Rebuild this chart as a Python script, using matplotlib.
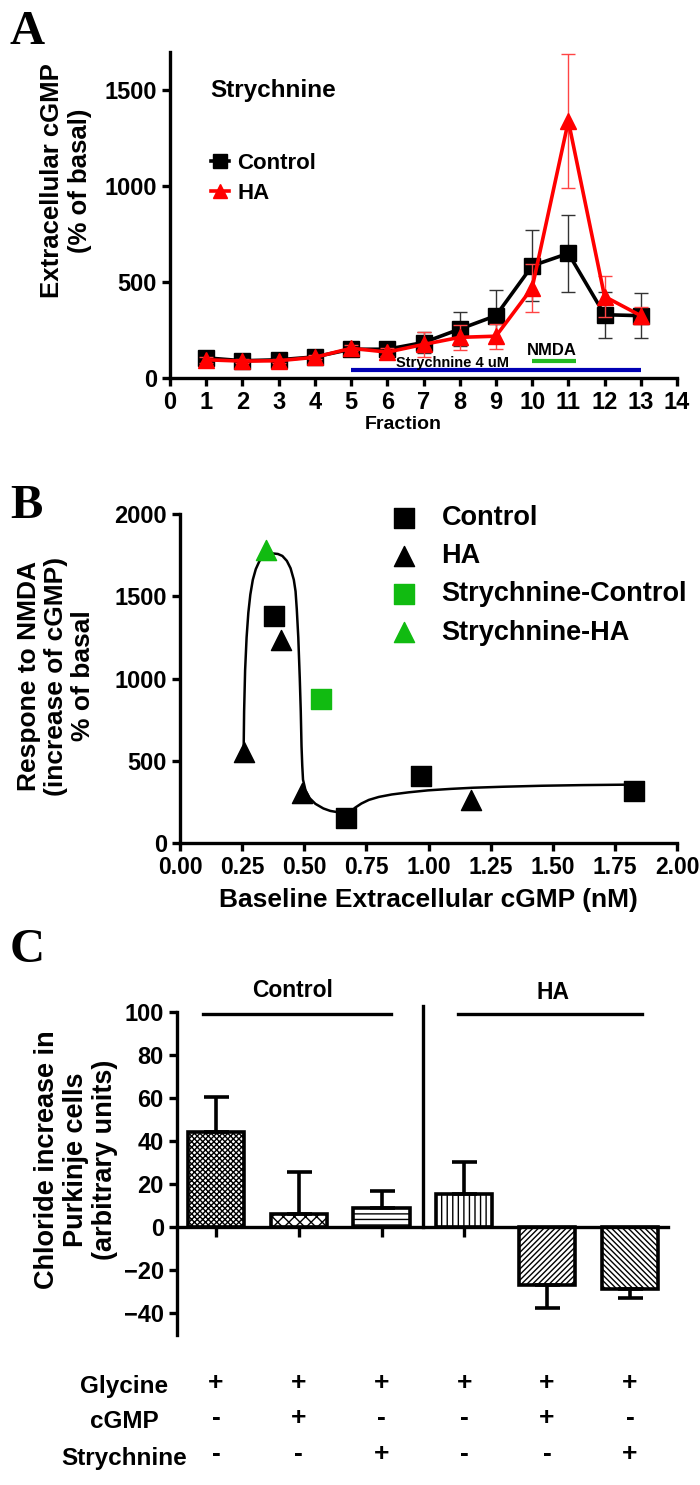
import numpy as np
import matplotlib.pyplot as plt
from matplotlib.lines import Line2D
from matplotlib.transforms import blended_transform_factory

plt.rcParams['font.family'] = ['Liberation Sans', 'DejaVu Sans']
plt.rcParams['font.weight'] = 'bold'
plt.rcParams['axes.labelweight'] = 'bold'
plt.rcParams['hatch.linewidth'] = 1.0

# ---- Panel A data ----
fraction = np.arange(1, 14)
ctrl_mean = [105, 90, 95, 110, 150, 150, 185, 255, 325, 585, 650, 330, 325]
ctrl_err = [25, 15, 15, 15, 20, 20, 55, 90, 135, 185, 200, 120, 118]
ha_mean = [95, 88, 90, 108, 155, 135, 175, 212, 218, 470, 1340, 425, 325]
ha_err = [15, 10, 10, 10, 15, 20, 65, 65, 65, 125, 350, 105, 45]

# ---- Panel B data ----
ctrl_x = [0.379, 0.668, 0.971, 1.828]
ctrl_y = [1378, 150, 405, 315]
ha_x = [0.256, 0.407, 0.489, 1.172]
ha_y = [555, 1235, 305, 260]
strych_ctrl_x = [0.568]
strych_ctrl_y = [875]
strych_ha_x = [0.348]
strych_ha_y = [1780]
fit_x = [0.256, 0.258, 0.262, 0.268, 0.275, 0.283, 0.293, 0.305, 0.32, 0.338, 0.357,
         0.375, 0.394, 0.412, 0.43, 0.445, 0.458, 0.465, 0.47, 0.476, 0.482, 0.486,
         0.489, 0.492, 0.495, 0.505, 0.522, 0.545, 0.577, 0.605, 0.632, 0.66, 0.687,
         0.705, 0.73, 0.76, 0.8, 0.852, 0.92, 0.998, 1.09, 1.18, 1.3, 1.456, 1.62, 1.82]
fit_y = [555, 800, 1050, 1250, 1400, 1510, 1600, 1665, 1715, 1742, 1756,
         1760, 1757, 1745, 1715, 1670, 1600, 1530, 1420, 1250, 1000, 800,
         590, 470, 385, 320, 272, 238, 210, 195, 188, 185, 190,
         215, 240, 262, 280, 295, 308, 320, 329, 336, 342, 348, 352, 355]

# ---- Panel C data ----
bar_mean = [44.5, 6, 9, 15.5, -27, -28.5]
bar_err = [16, 19.5, 8, 15, 10.5, 4.5]
bar_hatch = ['xxxxxx', 'xxx', '---', '|||', '//////', '\\\\\\\\\\\\']
glycine = ['+', '+', '+', '+', '+', '+']
cgmp = ['-', '+', '-', '-', '+', '-']
strychnine = ['-', '-', '+', '-', '-', '+']

W, H = 700, 1485
fig = plt.figure(figsize=(W / 100, H / 100), dpi=100)


def px_axes(left, right, top, bottom):
    return fig.add_axes([left / W, 1 - bottom / H, (right - left) / W, (bottom - top) / H])


def style(ax):
    for s in ['top', 'right']:
        ax.spines[s].set_visible(False)
    for s in ['left', 'bottom']:
        ax.spines[s].set_linewidth(2.4)
    ax.tick_params(width=2.4, length=6, labelsize=17, direction='out')
    for lab in ax.get_xticklabels() + ax.get_yticklabels():
        lab.set_fontweight('bold')


# ================= A =================
axA = px_axes(170, 677, 52, 378)
axA.errorbar(fraction, ctrl_mean, yerr=ctrl_err, color='black', lw=2.6, marker='s', ms=11,
             ecolor='#333333', elinewidth=1.0, capsize=5, capthick=1.0, zorder=3)
axA.errorbar(fraction, ha_mean, yerr=ha_err, color='#ff0000', lw=2.6, marker='^', ms=11,
             ecolor='#ff4444', elinewidth=1.0, capsize=5, capthick=1.0, zorder=4)
axA.set_xlim(0, 14)
axA.set_ylim(0, 1700)
axA.set_xticks(range(0, 15))
axA.set_yticks([0, 500, 1000, 1500])
style(axA)
axA.spines['bottom'].set_bounds(0, 14)
axA.set_xlabel('Fraction', fontsize=14, fontweight='bold')
axA.xaxis.set_label_coords(0.46, -0.118)
axA.plot([5, 13], [40, 40], color='#0000b4', lw=3, solid_capstyle='butt')
axA.plot([10, 11.2], [88, 88], color='#22bb22', lw=3, solid_capstyle='butt')
axA.text(7.8, 80, 'Strychnine 4 uM', fontsize=10.5, fontweight='bold', ha='center', va='center')
axA.text(10.55, 145, 'NMDA', fontsize=12, fontweight='bold', ha='center', va='center')
axA.text(1.1, 1500, 'Strychnine', fontsize=17.5, fontweight='bold', ha='left', va='center')
hA = [Line2D([], [], color='black', lw=2.6, marker='s', ms=10),
      Line2D([], [], color='#ff0000', lw=2.6, marker='^', ms=10)]
axA.legend(hA, ['Control', 'HA'], loc='upper left', bbox_to_anchor=(1.13, 1175),
           bbox_transform=axA.transData, frameon=False, borderpad=0,
           borderaxespad=0, handlelength=0.8, handletextpad=0.4, labelspacing=0.4,
           prop={'weight': 'bold', 'size': 16})
fig.text(66 / W, 1 - 181 / H, 'Extracellular cGMP\n(% of basal)', rotation=90,
         ha='center', va='center', fontsize=18.5, fontweight='bold', multialignment='center')
fig.text(10 / W, 1 - 10 / H, 'A', family='Liberation Serif', fontsize=35,
         fontweight='bold', ha='left', va='top')

# ================= B =================
axB = px_axes(180, 677, 514, 843)
axB.plot(fit_x, fit_y, color='black', lw=1.8, zorder=2)
axB.scatter(ctrl_x, ctrl_y, marker='s', s=210, color='black', zorder=3, label='Control')
axB.scatter(ha_x, ha_y, marker='^', s=210, color='black', zorder=3, label='HA')
axB.scatter(strych_ctrl_x, strych_ctrl_y, marker='s', s=210, color='#11bb11', zorder=3,
            label='Strychnine-Control')
axB.scatter(strych_ha_x, strych_ha_y, marker='^', s=210, color='#11bb11', zorder=3,
            label='Strychnine-HA')
axB.set_xlim(0, 2)
axB.set_ylim(0, 2000)
axB.set_xticks(np.arange(0, 2.01, 0.25))
axB.set_xticklabels(['%.2f' % v for v in np.arange(0, 2.01, 0.25)])
axB.set_yticks([0, 500, 1000, 1500, 2000])
style(axB)
axB.tick_params(axis='x', labelsize=16.5)
axB.set_xlabel('Baseline Extracellular cGMP (nM)', fontsize=19, fontweight='bold', labelpad=6)
axB.legend(loc='upper left', bbox_to_anchor=(390 / W, 1 - 505 / H),
           bbox_transform=fig.transFigure, frameon=False, borderpad=0, borderaxespad=0,
           handlelength=1.0, handletextpad=0.9, labelspacing=0.45,
           prop={'weight': 'bold', 'size': 19.5}, scatterpoints=1)
fig.text(56 / W, 1 - 676 / H, 'Respone to NMDA\n(increase of cGMP)\n% of basal', rotation=90,
         ha='center', va='center', fontsize=19, fontweight='bold', multialignment='center',
         linespacing=1.15)
fig.text(10 / W, 1 - 484 / H, 'B', family='Liberation Serif', fontsize=35,
         fontweight='bold', ha='left', va='top')

# ================= C =================
axC = px_axes(177, 668, 1012, 1335)
xpos = np.arange(len(bar_mean))
for i in range(len(bar_mean)):
    axC.bar(xpos[i], bar_mean[i], width=0.68, color='white', edgecolor='black',
            linewidth=2.6, hatch=bar_hatch[i], zorder=2)
lower = [e if m < 0 else 0 for m, e in zip(bar_mean, bar_err)]
upper = [e if m >= 0 else 0 for m, e in zip(bar_mean, bar_err)]
axC.errorbar(xpos, bar_mean, yerr=[lower, upper], fmt='none', ecolor='black',
             elinewidth=2.6, capsize=9, capthick=2.6, zorder=3)
axC.set_xlim(-0.47, 5.46)
axC.set_ylim(-50, 100)
axC.set_yticks([-40, -20, 0, 20, 40, 60, 80, 100])
axC.set_xticks(xpos)
axC.set_xticklabels([])
style(axC)
axC.spines['bottom'].set_position(('data', 0))
axC.spines['left'].set_bounds(-50, 100)
axC.tick_params(axis='x', length=7)
axC.plot([-0.15, 2.11], [99, 99], color='black', lw=2.4, clip_on=False)
axC.plot([2.92, 5.15], [99, 99], color='black', lw=2.4, clip_on=False)
axC.plot([2.5, 2.5], [0, 103], color='black', lw=2.4, clip_on=False)
axC.text(0.92, 110, 'Control', fontsize=16.5, fontweight='bold', ha='center', va='center')
axC.text(4.07, 109, 'HA', fontsize=16.5, fontweight='bold', ha='center', va='center')
fig.text(76 / W, 1 - 1160 / H, 'Chloride increase in\nPurkinje cells\n(arbitrary units)',
         rotation=90, ha='center', va='center', fontsize=19.5, fontweight='bold',
         multialignment='center', linespacing=1.15)
fig.text(10 / W, 1 - 928 / H, 'C', family='Liberation Serif', fontsize=35,
         fontweight='bold', ha='left', va='top')

trans = blended_transform_factory(axC.transData, fig.transFigure)
rows = [('Glycine', glycine, 1387), ('cGMP', cgmp, 1422), ('Strychnine', strychnine, 1458)]
for name, signs, ypx in rows:
    fig.text(124 / W, 1 - ypx / H, name, ha='center', va='center', fontsize=17.5,
             fontweight='bold')
    for i, s in enumerate(signs):
        axC.text(xpos[i], 1 - (ypx - 4) / H, s, transform=trans, ha='center', va='center',
                 fontsize=19, fontweight='bold')

fig.savefig('out.png', dpi=100)
